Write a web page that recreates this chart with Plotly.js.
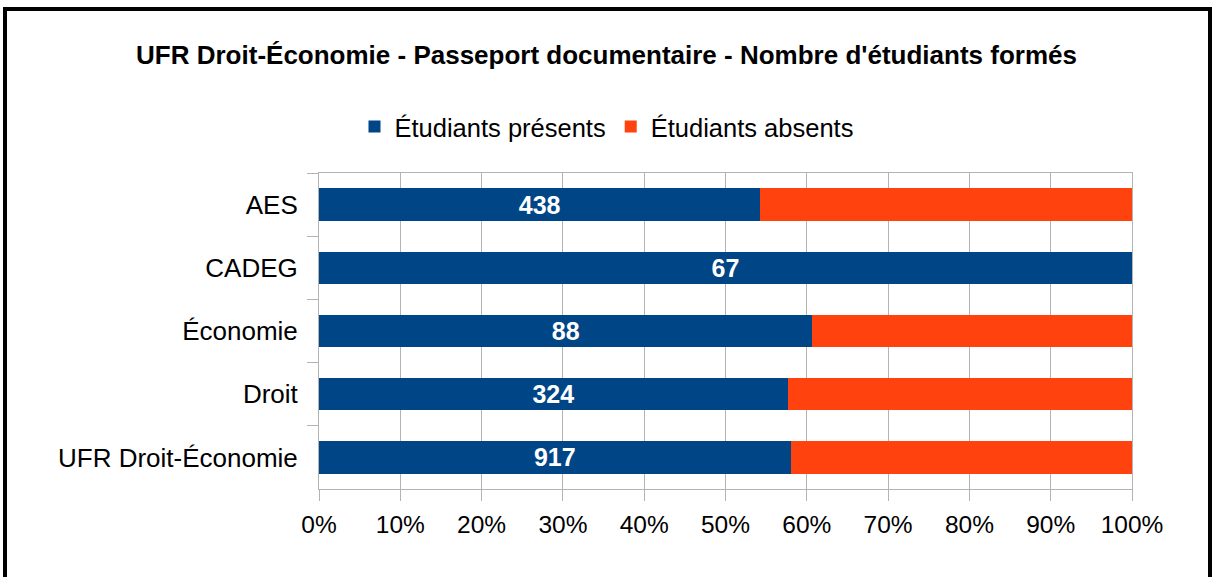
<!DOCTYPE html>
<html>
<head>
<meta charset="utf-8">
<script src="https://cdn.plot.ly/plotly-3.0.1.min.js"></script>
<style>
html,body{margin:0;padding:0;background:#fff;overflow:hidden;}
#frame{position:absolute;left:3px;top:7px;width:1209px;height:620px;box-sizing:border-box;border:4px solid #000;border-bottom:none;}
#chart{position:absolute;left:0;top:0;width:1213px;height:577px;}
</style>
</head>
<body>
<div id="frame"></div>
<div id="chart"></div>
<script>
const categories = ['AES', 'CADEG', 'Économie', 'Droit', 'UFR Droit-Économie'];
const presents = [438, 67, 88, 324, 917];
const absents = [369, 0, 57, 238, 664];
const xTickLabels = ['0%','10%','20%','30%','40%','50%','60%','70%','80%','90%','100%'];
const xTickVals = [0,10,20,30,40,50,60,70,80,90,100];

const font = "'Liberation Sans', Arial, sans-serif";

const traces = [
  {
    type: 'bar', orientation: 'h', name: 'Étudiants présents',
    y: categories, x: presents,
    marker: {color: '#004586'},
    text: presents.map(String), textposition: 'inside', insidetextanchor: 'middle',
    textangle: 0, constraintext: 'none',
    textfont: {family: font, size: 25, color: '#ffffff', weight: 'bold'},
    hoverinfo: 'skip'
  },
  {
    type: 'bar', orientation: 'h', name: 'Étudiants absents',
    y: categories, x: absents,
    marker: {color: '#ff420e'},
    textposition: 'none',
    hoverinfo: 'skip'
  }
];

const layout = {
  width: 1213, height: 577,
  paper_bgcolor: 'rgba(0,0,0,0)', plot_bgcolor: '#ffffff',
  font: {family: font, size: 25, color: '#000'},
  margin: {l: 319, r: 81, t: 173, b: 88},
  barmode: 'stack', barnorm: 'percent', bargap: 0.49,
  showlegend: true,
  title: {
    text: "UFR Droit-Économie - Passeport documentaire - Nombre d'étudiants formés",
    font: {family: font, size: 26, color: '#000', weight: 'bold'},
    x: 0.5, xanchor: 'center', xref: 'container',
    y: 1 - 55/577, yanchor: 'middle', yref: 'container'
  },
  legend: {
    orientation: 'h', x: 0.5, xanchor: 'center', xref: 'container',
    y: 1 - 127/577, yanchor: 'middle', yref: 'container',
    font: {family: font, size: 25.5, color: '#000'},
    traceorder: 'normal', itemwidth: 30
  },
  xaxis: {
    range: [0, 100], tickvals: xTickVals, ticktext: xTickLabels,
    showgrid: true, gridcolor: '#b3b3b3', gridwidth: 1,
    ticks: 'outside', ticklen: 11, tickcolor: '#b3b3b3',
    showline: true, linecolor: '#b3b3b3', mirror: true,
    zeroline: false, fixedrange: true,
    ticklabelstandoff: 3,
    tickfont: {family: font, size: 24.5, color: '#000'}
  },
  yaxis: {
    type: 'category', autorange: 'reversed',
    showgrid: false, ticks: 'outside', tickson: 'boundaries', ticklen: 11, tickcolor: '#b3b3b3',
    showline: true, linecolor: '#b3b3b3', mirror: true,
    ticklabelstandoff: 15,
    fixedrange: true,
    tickfont: {family: font, size: 26, color: '#000'}
  }
};

Plotly.newPlot('chart', traces, layout, {displayModeBar: false, staticPlot: true});
</script>
</body>
</html>
